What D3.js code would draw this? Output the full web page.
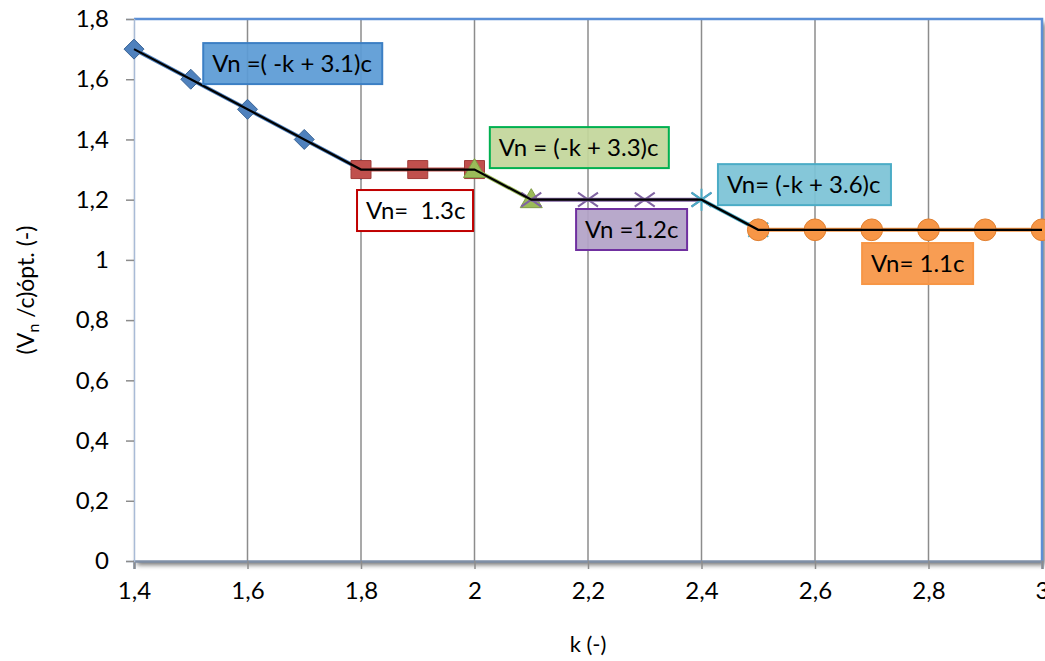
<!DOCTYPE html>
<html>
<head>
<meta charset="utf-8">
<script src="https://cdn.jsdelivr.net/npm/d3@7/dist/d3.min.js"></script>
<style>
  html, body { margin: 0; padding: 0; background: #ffffff; }
  svg { display: block; font-family: Lato, "Open Sans", sans-serif; }
</style>
</head>
<body>
<svg id="chart" width="1045" height="661"></svg>
<script>
// Optimal normalised speed (Vn/c) against k, piecewise by regime
const kBlue   = [1.4, 1.5, 1.6, 1.7, 1.8];
const vBlue   = [1.7, 1.6, 1.5, 1.4, 1.3];
const kRed    = [1.8, 1.9, 2.0];
const vRed    = [1.3, 1.3, 1.3];
const kGreen  = [2.0, 2.1];
const vGreen  = [1.3, 1.2];
const kPurple = [2.1, 2.2, 2.3, 2.4];
const vPurple = [1.2, 1.2, 1.2, 1.2];
const kCyan   = [2.4, 2.5];
const vCyan   = [1.2, 1.1];
const kOrange = [2.5, 2.6, 2.7, 2.8, 2.9, 3.0];
const vOrange = [1.1, 1.1, 1.1, 1.1, 1.1, 1.1];

// Overall envelope drawn as a thin black line
const kAll = [1.4, 1.5, 1.6, 1.7, 1.8, 1.9, 2.0, 2.1, 2.2, 2.3, 2.4, 2.5, 2.6, 2.7, 2.8, 2.9, 3.0];
const vAll = [1.7, 1.6, 1.5, 1.4, 1.3, 1.3, 1.3, 1.2, 1.2, 1.2, 1.2, 1.1, 1.1, 1.1, 1.1, 1.1, 1.1];

const xTicks = [1.4, 1.6, 1.8, 2.0, 2.2, 2.4, 2.6, 2.8, 3.0];
const yTicks = [0, 0.2, 0.4, 0.6, 0.8, 1.0, 1.2, 1.4, 1.6, 1.8];

// Equation labels, anchored at the box's top-left corner in data units
const noteText = ["Vn =( -k + 3.1)c", "Vn = (-k + 3.3)c", "Vn=  1.3c", "Vn =1.2c", "Vn= (-k + 3.6)c", "Vn= 1.1c"];
const noteK    = [1.522, 2.027, 1.793, 2.179, 2.429, 2.683];
const noteV    = [1.720, 1.441, 1.232, 1.169, 1.318, 1.056];

const svg = d3.select("#chart");
const margin = { left: 134, right: 3, top: 19, bottom: 100 };
const W = 1045, H = 661;

const x = d3.scaleLinear().domain([1.4, 3.0]).range([margin.left, W - margin.right]);
const y = d3.scaleLinear().domain([0, 1.8]).range([H - margin.bottom, margin.top]);

const fmt = v => d3.format(".1f")(v).replace(/\.0$/, "").replace(".", ",");

// Drop shadow for the plot frame
const defs = svg.append("defs");
const sh = defs.append("filter").attr("id", "shadow").attr("x", "-5%").attr("y", "-5%").attr("width", "115%").attr("height", "115%");
sh.append("feGaussianBlur").attr("in", "SourceAlpha").attr("stdDeviation", 2.5).attr("result", "b");
sh.append("feOffset").attr("in", "b").attr("dx", 3).attr("dy", 4).attr("result", "o");
sh.append("feComponentTransfer").attr("in", "o").attr("result", "s")
  .append("feFuncA").attr("type", "linear").attr("slope", 0.55);
const mrg = sh.append("feMerge");
mrg.append("feMergeNode").attr("in", "s");
mrg.append("feMergeNode").attr("in", "SourceGraphic");

const x0 = x(1.4), x1 = x(3.0), y0 = y(0), y1 = y(1.8);

svg.append("rect")
  .attr("x", x0).attr("y", y1).attr("width", x1 - x0).attr("height", y0 - y1)
  .attr("fill", "#ffffff").attr("filter", "url(#shadow)");

// Vertical gridlines
svg.append("g").selectAll("line")
  .data(xTicks.filter(t => t > 1.4 && t < 3.0))
  .join("line")
  .attr("x1", d => x(d)).attr("x2", d => x(d))
  .attr("y1", y1).attr("y2", y0)
  .attr("stroke", "#8c8c8c").attr("stroke-width", 1.5);

// Plot frame: blue top and right edges
svg.append("path")
  .attr("d", `M${x0},${y1}H${x1}V${y0}`)
  .attr("fill", "none").attr("stroke", "#5b8fd6").attr("stroke-width", 2.5);

// Axes
const xAxis = d3.axisBottom(x).tickValues(xTicks).tickFormat(fmt).tickSize(8).tickPadding(13);
const yAxis = d3.axisLeft(y).tickValues(yTicks).tickFormat(fmt).tickSize(8).tickPadding(17);

const gx = svg.append("g").attr("transform", `translate(0,${y0})`).call(xAxis);
gx.select(".domain").attr("stroke", "#7f8fa6").attr("stroke-width", 2.5);
gx.selectAll(".tick line").attr("stroke", "#8c8c8c").attr("stroke-width", 1.5);
gx.selectAll(".tick text").attr("font-size", 24).attr("fill", "#000")
  .attr("font-family", "Lato, sans-serif");

const gy = svg.append("g").attr("transform", `translate(${x0},0)`).call(yAxis);
gy.select(".domain").attr("stroke", "#a9bbd6").attr("stroke-width", 1.5);
gy.selectAll(".tick line").attr("stroke", "#8c8c8c").attr("stroke-width", 1.5);
gy.selectAll(".tick text").attr("font-size", 24).attr("fill", "#000")
  .attr("font-family", "Lato, sans-serif");

// Axis titles
svg.append("text")
  .attr("x", (x0 + x1) / 2).attr("y", 652)
  .attr("text-anchor", "middle").attr("font-size", 22).text("k (-)");

const yt = svg.append("text")
  .attr("transform", `translate(34,${(y0 + y1) / 2}) rotate(-90)`)
  .attr("text-anchor", "middle").attr("font-size", 23);
yt.append("tspan").text("(V");
yt.append("tspan").attr("font-size", 16).attr("dy", 5).text("n");
yt.append("tspan").attr("dy", -5).text(" /c)ópt. (-)");

// Series
const line = d3.line().x(d => x(d[0])).y(d => y(d[1]));
const zip = (ks, vs) => ks.map((k, i) => [k, vs[i]]);

const series = [
  { pts: zip(kBlue, vBlue),     color: "#4f81bd", edge: "#3a6496", shape: "diamond" },
  { pts: zip(kRed, vRed),       color: "#c0504d", edge: "#a03c3a", shape: "square" },
  { pts: zip(kGreen, vGreen),   color: "#9bbb59", edge: "#7f9c45", shape: "triangle" },
  { pts: zip(kPurple, vPurple), color: "#8064a2", edge: "#8064a2", shape: "cross" },
  { pts: zip(kCyan, vCyan),     color: "#4bacc6", edge: "#4bacc6", shape: "star" },
  { pts: zip(kOrange, vOrange), color: "#f79646", edge: "#e07f30", shape: "circle" }
];

const markerPath = {
  diamond: "M0,-10L10,0L0,10L-10,0Z",
  square: "M-10,-9H10V9H-10Z",
  triangle: "M0,-11L11,8H-11Z",
  circle: d3.symbol(d3.symbolCircle, 370)(),
  cross: "M-10,-7L10,7M-10,7L10,-7",
  star: "M-10,-7L10,7M-10,7L10,-7M0,-11V11"
};

series.forEach(s => {
  const g = svg.append("g");
  g.append("path").attr("d", line(s.pts))
    .attr("fill", "none").attr("stroke", s.color).attr("stroke-width", 4);
  const open = s.shape === "cross" || s.shape === "star";
  g.selectAll("path.m").data(s.pts).join("path").attr("class", "m")
    .attr("transform", d => `translate(${x(d[0])},${y(d[1])})`)
    .attr("d", markerPath[s.shape])
    .attr("fill", open ? "none" : s.color)
    .attr("stroke", open ? s.color : s.edge)
    .attr("stroke-width", open ? 2 : 1);
});

svg.append("path").attr("d", line(zip(kAll, vAll)))
  .attr("fill", "none").attr("stroke", "#000").attr("stroke-width", 2.2);

// Equation boxes
const noteW = [179, 179, 116, 111, 173, 111];
const noteFill = ["#5b9bd5", "#c3d69b", "#ffffff", "#b3a2c7", "#7cc3d6", "#f79646"];
const noteEdge = ["#3c7fc4", "#00b050", "#c00000", "#7030a0", "#4bacc6", "#f79646"];
const noteH = 41;

noteText.forEach((t, i) => {
  const bx = x(noteK[i]), by = y(noteV[i]);
  const g = svg.append("g").attr("transform", `translate(${bx},${by})`);
  g.append("rect").attr("width", noteW[i]).attr("height", noteH)
    .attr("fill", noteFill[i]).attr("fill-opacity", i === 2 ? 1 : 0.93)
    .attr("stroke", noteEdge[i]).attr("stroke-width", 2);
  g.append("text").attr("x", 9).attr("y", noteH / 2 + 8.5)
    .attr("font-size", 24).attr("fill", "#000").attr("xml:space", "preserve")
    .style("white-space", "pre").text(t);
});
</script>
</body>
</html>
